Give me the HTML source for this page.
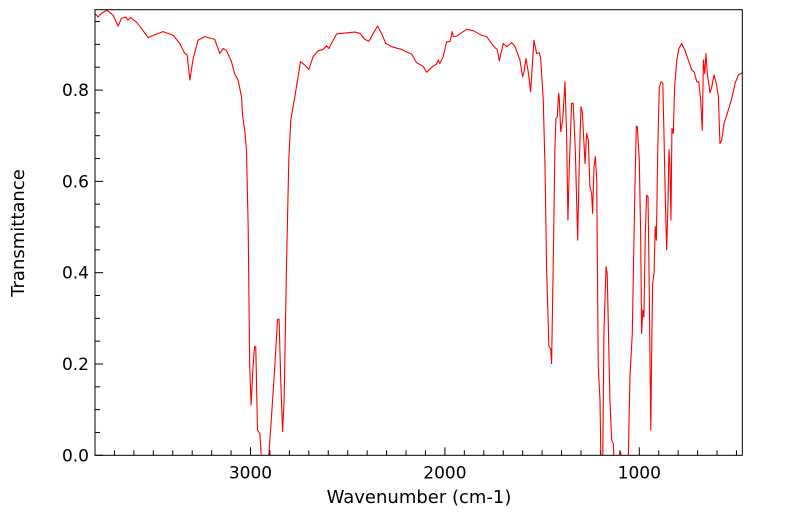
<!DOCTYPE html>
<html><head><meta charset="utf-8"><style>
html,body{margin:0;padding:0;background:#fff;}
svg{display:block;font-family:"DejaVu Sans","Liberation Sans",sans-serif;}
</style></head><body>
<svg id="chart" width="799" height="516" viewBox="0 0 799 516">
<defs><clipPath id="plotclip"><rect x="95" y="9.7" width="647.3" height="445.6"/></clipPath></defs>
<g id="ticks"></g>
<g id="series" clip-path="url(#plotclip)"></g>
<rect x="95" y="9.7" width="647.3" height="445.6" fill="none" stroke="#000" stroke-width="1"/>
<text x="419" y="503" text-anchor="middle" font-size="18">Wavenumber (cm-1)</text>
<text transform="translate(24,233) rotate(-90)" text-anchor="middle" font-size="18">Transmittance</text>
</svg>
<script>
const wavenumbers = [3801,3784,3767,3738,3707,3681,3664,3642,3630,3618,3587,3561,3527,3450,3398,3364,3338,3326,3312,3295,3270,3235,3184,3158,3141,3124,3098,3081,3064,3046,3041,3029,3021,3012,3004,2997,2987,2979,2973,2964,2952,2942,2909,2892,2875,2861,2853,2844,2835,2827,2815,2803,2793,2772,2743,2721,2700,2678,2652,2626,2609,2597,2557,2489,
2463,2437,2412,2390,2369,2346,2326,2304,2274,2223,2189,2171,2146,2112,2094,2068,2043,2034,2026,2009,1991,1974,1962,1957,1940,1888,1854,1829,1811,1785,1760,1743,1731,1720,1700,1682,1657,1640,1614,1600,1593,1583,1571,1559,1542,1528,1515,1507,1494,1485,1477,1465,1456,1451,1443,1434,1429,1422,1415,1412,1404,1394,1382,1374,1367,1360,1348,1340,1329,1317,1309,1300,1293,1279,1271,1262,1254,1245,1240,1233,1226,1219,1211,1202,1197,1188,1182,1171,1165,1151,1142,1134,1129,1099,1096,1091,1057,1048,1036,1022,1015,1010,1000,993,988,982,976,969,962,955,948,941,935,931,924,918,912,905,897,888,879,873,866,859,852,847,842,837,832,825,818,807,796,782,765,748,730,718,704,694,684,676,670,663,657,650,636,627,615,602,593,585,576,564,542,524,507,490,470];
const transmittance = [0.968,0.960,0.968,0.975,0.964,0.940,0.957,0.960,0.953,0.959,0.949,0.935,0.915,0.928,0.920,0.902,0.880,0.877,0.822,0.869,0.909,0.917,0.911,0.880,0.891,0.887,0.862,0.835,0.822,0.785,0.745,0.709,0.669,0.501,0.194,0.110,0.194,0.238,0.238,0.055,0.048,-0.02,-0.02,0.085,0.194,0.298,0.298,0.158,0.052,0.121,0.413,0.647,0.734,0.785,0.862,0.855,0.845,0.873,0.886,0.889,0.897,0.891,0.923,0.926,
0.927,0.924,0.911,0.907,0.924,0.940,0.924,0.902,0.895,0.889,0.882,0.879,0.860,0.852,0.839,0.850,0.857,0.866,0.858,0.873,0.906,0.906,0.928,0.917,0.918,0.933,0.930,0.924,0.920,0.917,0.902,0.893,0.889,0.864,0.902,0.895,0.904,0.896,0.866,0.829,0.840,0.869,0.840,0.796,0.909,0.880,0.882,0.869,0.778,0.632,0.413,0.238,0.234,0.201,0.413,0.669,0.738,0.741,0.793,0.785,0.709,0.734,0.818,0.705,0.515,0.632,0.771,0.771,0.669,0.471,0.632,0.763,0.752,0.639,0.705,0.690,0.588,0.574,0.530,0.632,0.654,0.603,0.194,0.121,-0.02,-0.02,0.267,0.413,0.399,0.121,0.034,0.026,-0.02,-0.02,0.008,-0.02,-0.02,0.172,0.267,0.596,0.721,0.720,0.647,0.486,0.267,0.318,0.303,0.486,0.570,0.566,0.340,0.055,0.267,0.377,0.399,0.501,0.471,0.669,0.807,0.818,0.815,0.705,0.559,0.450,0.559,0.669,0.632,0.515,0.716,0.705,0.807,0.866,0.891,0.902,0.887,0.866,0.844,0.840,0.818,0.818,0.778,0.712,0.866,0.836,0.880,0.836,0.794,0.807,0.833,0.811,0.785,0.683,0.690,0.727,0.756,0.782,0.815,0.833,0.838];
const xTickLabels = [3000,2000,1000];
const yTickLabels = ["0.0","0.2","0.4","0.6","0.8"];
const yTickValues = [0,0.2,0.4,0.6,0.8];

const NS="http://www.w3.org/2000/svg";
const X0=95, X1=742.3, Y0=455.3, Y1=9.7;
const WMAX=3800, WMIN=470, TMIN=0, TMAX=0.976;
function xs(w){return X0+(WMAX-w)/(WMAX-WMIN)*(X1-X0);}
function ys(t){return Y0-(t-TMIN)/(TMAX-TMIN)*(Y0-Y1);}

const series=document.getElementById('series');
let d='';
for(let i=0;i<wavenumbers.length;i++){d+=(i?'L':'M')+xs(wavenumbers[i]).toFixed(2)+','+ys(transmittance[i]).toFixed(2);}
const p=document.createElementNS(NS,'path');
p.setAttribute('d',d);p.setAttribute('fill','none');p.setAttribute('stroke','#ff0000');p.setAttribute('stroke-width','1.1');p.setAttribute('stroke-linejoin','round');


series.appendChild(p);

const ticks=document.getElementById('ticks');
function line(x1,y1,x2,y2){const l=document.createElementNS(NS,'line');l.setAttribute('x1',x1);l.setAttribute('y1',y1);l.setAttribute('x2',x2);l.setAttribute('y2',y2);l.setAttribute('stroke','#000');l.setAttribute('stroke-width','1');ticks.appendChild(l);return l;}
for(let w=3800;w>=WMIN;w-=100){const x=xs(w);const major=(w%1000===0);const l=line(x,Y0,x,Y0-(major?8:5));

}
xTickLabels.forEach(v=>{const t=document.createElementNS(NS,'text');t.setAttribute('x',xs(v));t.setAttribute('y',Y0+23);t.setAttribute('text-anchor','middle');t.setAttribute('font-size','17');t.textContent=v;


ticks.appendChild(t);});
for(let k=0;k*0.05<=TMAX;k++){const y=ys(k*0.05);const major=(k%4===0);const l=line(X0,y,X0+(major?8:5),y);

}
yTickValues.forEach((v,i)=>{const t=document.createElementNS(NS,'text');t.setAttribute('x',X0-6);t.setAttribute('y',ys(v)+6);t.setAttribute('text-anchor','end');t.setAttribute('font-size','17');t.textContent=yTickLabels[i];


ticks.appendChild(t);});
</script>
</body></html>
